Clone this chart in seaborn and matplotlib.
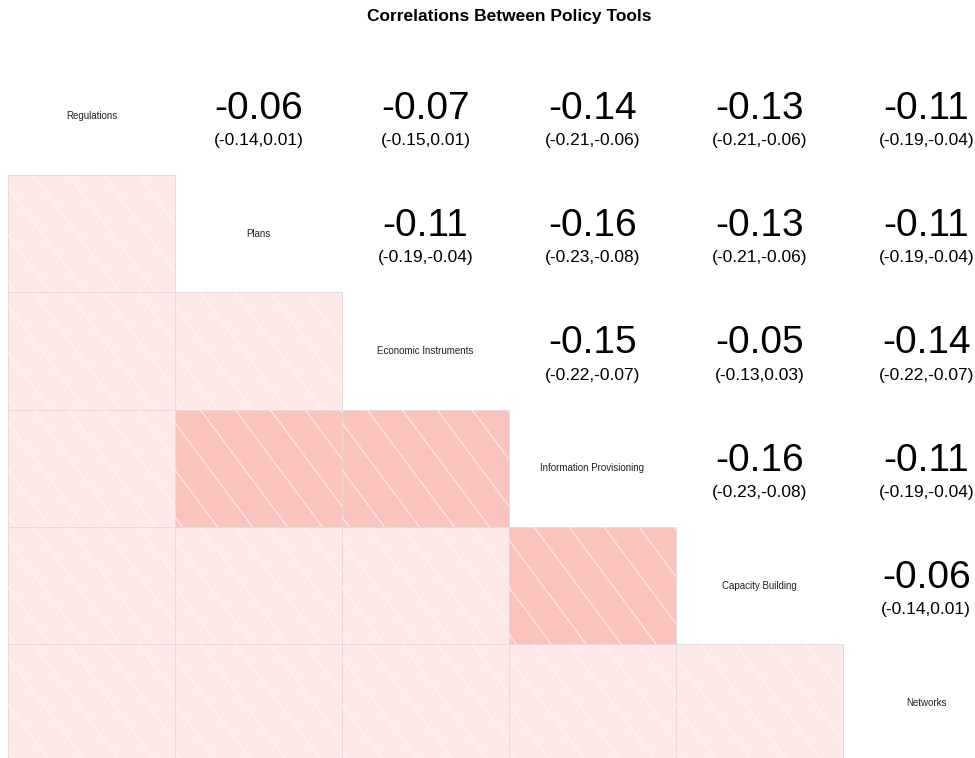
import numpy as np
import pandas as pd
import matplotlib
matplotlib.use("Agg")
import matplotlib.pyplot as plt
from matplotlib.colors import ListedColormap, BoundaryNorm, to_rgba
from matplotlib.patches import Rectangle
from matplotlib.collections import LineCollection
import seaborn as sns

# Policy tools (diagonal labels)
tools = ["Regulations", "Plans", "Economic Instruments",
         "Information Provisioning", "Capacity Building", "Networks"]

# Pairwise correlations, upper triangle in row order (i < j)
pair_i = [0, 0, 0, 0, 0, 1, 1, 1, 1, 2, 2, 2, 3, 3, 4]
pair_j = [1, 2, 3, 4, 5, 2, 3, 4, 5, 3, 4, 5, 4, 5, 5]
r_values = [-0.06, -0.07, -0.14, -0.13, -0.11,
            -0.11, -0.16, -0.13, -0.11,
            -0.15, -0.05, -0.14,
            -0.16, -0.11,
            -0.06]
ci_low = [-0.14, -0.15, -0.21, -0.21, -0.19,
          -0.19, -0.23, -0.21, -0.19,
          -0.22, -0.13, -0.22,
          -0.23, -0.19,
          -0.14]
ci_high = [0.01, 0.01, -0.06, -0.06, -0.04,
           -0.04, -0.08, -0.06, -0.04,
           -0.07, 0.03, -0.07,
           -0.08, -0.04,
           0.01]

n = len(tools)
corr = np.full((n, n), np.nan)
for i, j, r in zip(pair_i, pair_j, r_values):
    corr[i, j] = r
    corr[j, i] = r
corr_df = pd.DataFrame(corr, index=tools, columns=tools)

sns.set_theme(style="white")
plt.rcParams["font.family"] = ["Liberation Sans", "DejaVu Sans"]

fig = plt.figure(figsize=(9.75, 7.58), dpi=100)
W, H = 975, 758
left_px, right_px, top_px, bottom_px = 8.3, 1009.7, 57.7, 761.6
ax = fig.add_axes([left_px / W, 1 - bottom_px / H,
                   (right_px - left_px) / W, (bottom_px - top_px) / H])

# lower triangle: shaded cells, strongest correlations darker
mask = np.triu(np.ones((n, n), dtype=bool))
cmap = ListedColormap(["#FBC3BD", "#FDE9E8"])
norm = BoundaryNorm([-1.0, -0.145, 1.0], cmap.N)
sns.heatmap(corr_df, mask=mask, cmap=cmap, norm=norm, cbar=False,
            linewidths=0.6, linecolor="#DDDDDD", square=False,
            xticklabels=False, yticklabels=False, ax=ax)

# outline only the shaded cells
mesh = ax.collections[0]
edge = np.array([to_rgba("#DDDDDD") if not m else (0, 0, 0, 0)
                 for m in mask.ravel()])
mesh.set_edgecolors(edge)

# diagonal hatching inside each shaded cell
dx, dy = 0.2096, 0.401
for i in range(n):
    for j in range(i):
        clip = Rectangle((j, i), 1, 1, facecolor="none", edgecolor="none")
        ax.add_patch(clip)
        segs = []
        for k in range(-4, 7):
            x0 = j + 0.15 + k * dx
            segs.append([(x0, i), (x0 + dx / dy, i + 1)])
        strong = corr[i, j] < -0.145
        lc = LineCollection(segs, colors="white", linewidths=0.8,
                            alpha=0.7 if strong else 0.55)
        ax.add_collection(lc)
        lc.set_clip_path(clip)

# diagonal: tool names
for k, name in enumerate(tools):
    ax.text(k + 0.5, k + 0.5, name, ha="center", va="center",
            fontsize=7, color="#222222")

# upper triangle: correlation and confidence interval
for i, j, r, lo, hi in zip(pair_i, pair_j, r_values, ci_low, ci_high):
    ax.text(j + 0.5, i + 0.435, f"{r:.2f}", ha="center", va="center",
            fontsize=28, color="black")
    ax.text(j + 0.5, i + 0.705, f"({lo:.2f},{hi:.2f})", ha="center",
            va="center", fontsize=12.5, color="black")

ax.set_xlabel("")
ax.set_ylabel("")
for s in ax.spines.values():
    s.set_visible(False)

fig.text((left_px + right_px) / 2 / W, 1 - 16 / H,
         "Correlations Between Policy Tools", ha="center", va="center",
         fontsize=12.5, fontweight="bold", color="black")

fig.savefig("out.png", dpi=100, facecolor="white")
